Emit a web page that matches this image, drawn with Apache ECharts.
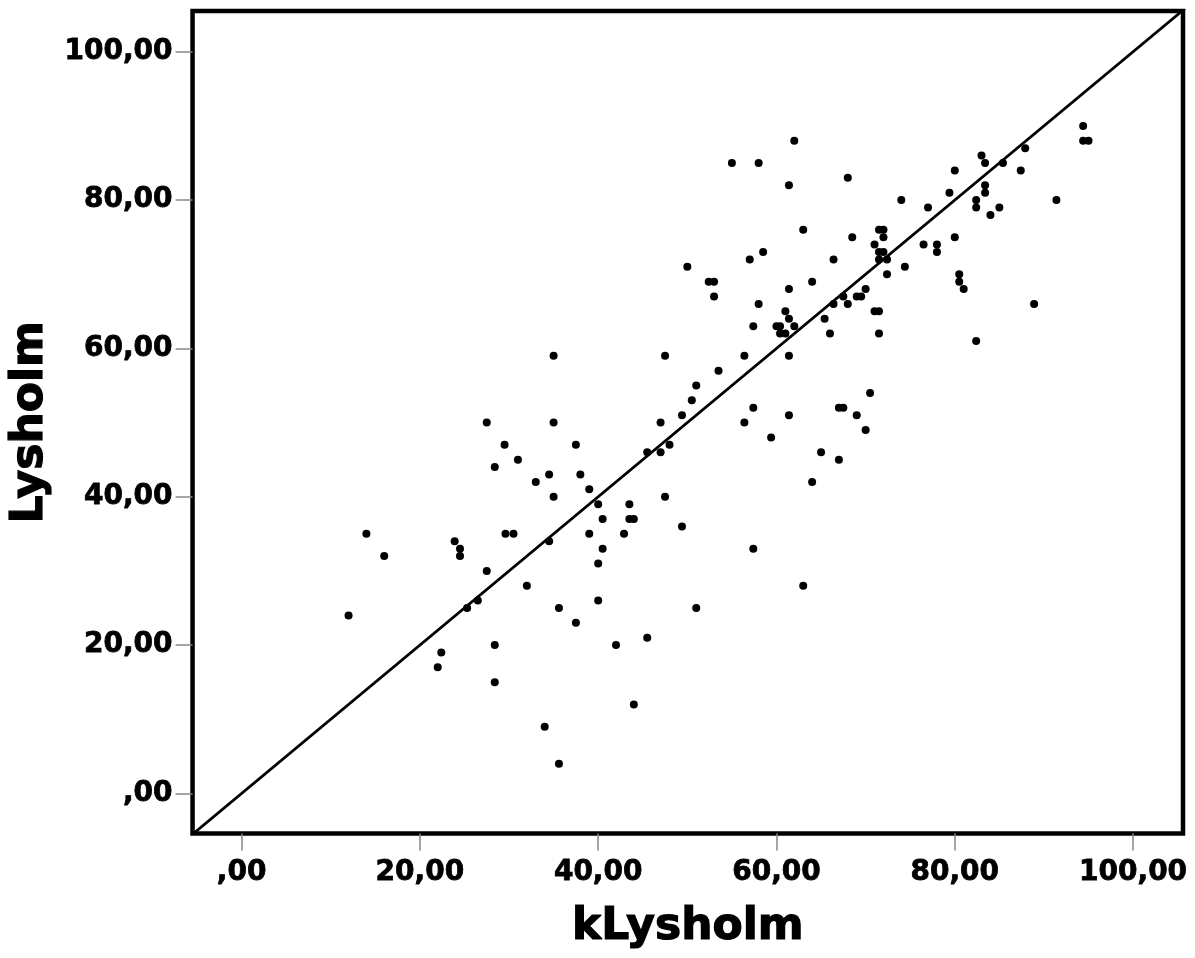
<!DOCTYPE html>
<html>
<head>
<meta charset="utf-8">
<script src="https://cdn.jsdelivr.net/npm/echarts@6/dist/echarts.min.js"></script>
<style>
html,body{margin:0;padding:0;background:#fff;}
#chart{width:1195px;height:958px;}
</style>
</head>
<body>
<div id="chart"></div>
<script>
// kLysholm (x) values
const kLysholm = [12,14,16,23.9,24.5,24.5,22,22.4,25.3,26.5,
27.5,27.5,28.4,29.5,29.6,30.5,31,28.4,28.4,32,
33,34.5,34.5,35,35,35,35.6,34,35.6,37.5,
37.5,38,39,39,40,40,40,40.5,40.5,42,
42.9,43.5,43.5,44,44,45.5,45.5,47,47,47.5,
47.5,48,49.4,49.4,50,50.5,51,51,52.4,53,
53,53.5,55,56.4,56.4,57,57.4,57.4,57.4,58,
58,58.5,59.4,60,60.4,60.4,61,61,61.4,61.4,
61.4,61.4,61.4,62,62,63,63,64,64,65,
65.4,66,66.4,66.4,67,67,67.5,67.5,68,68,
68.5,69,69,69.5,70,70,70.5,71,71,71.5,
71.5,71.5,71.5,71.5,72,72,72,72.4,72.4,74,
74.4,76.5,77,78,78,79.4,80,80,80.5,80.5,
81,82.4,82.4,82.4,83,83.4,83.4,83.4,84,85,
85.4,87.4,87.9,88.9,91.4,94.4,94.4,95];
// Lysholm (y) values
const lysholm = [24,35,32,34,33,32,17,19,25,26,
30,50,44,47,35,35,45,20,15,28,
42,43,34,50,40,59,25,9,4,47,
23,43,41,35,39,31,26,37,33,20,
35,39,37,37,12,46,21,50,46,59,
40,47,51,36,71,53,55,25,69,69,
67,57,85,59,50,72,63,52,33,85,
66,73,48,63,63,62,65,62,68,64,
59,51,82,88,63,76,28,69,42,46,
64,62,72,66,52,45,67,52,83,66,
75,67,51,67,68,49,54,74,65,76,
73,72,65,62,76,75,73,72,70,80,
71,74,79,74,73,81,75,84,70,69,
68,80,79,61,86,85,82,81,78,79,
85,84,87,66,80,90,88,88];
// tick values
const tickValues = [0,20,40,60,80,100];
// identity reference line y = x
const refLine = [[-10,-10],[110,110]];

const points = kLysholm.map((x,i)=>[x, lysholm[i]]);
const fmt = v => v === 0 ? ',00' : v.toFixed(2).replace('.', ',');
const FONT = 'DejaVu Sans';
const labelStyle = {fontFamily:FONT, fontWeight:'bold', fontSize:28, color:'#000', textBorderColor:'#000', textBorderWidth:0.8, formatter:fmt, customValues:tickValues};

const chart = echarts.init(document.getElementById('chart'), null, {renderer:'canvas'});
chart.setOption({
  backgroundColor:'#fff',
  animation:false,
  grid:{left:188.5, right:12, top:11, bottom:124.5, show:true, borderColor:'#000', borderWidth:4.5, backgroundColor:'transparent'},
  xAxis:{
    type:'value', min:-5.5, max:105.6,
    name:'kLysholm', nameLocation:'middle', nameGap:72,
    nameTextStyle:{fontFamily:FONT, fontWeight:'bold', fontSize:44, color:'#000', textBorderColor:'#000', textBorderWidth:1.2},
    axisLine:{show:false, onZero:false},
    splitLine:{show:false},
    axisTick:{show:true, inside:false, length:17, lineStyle:{color:'#888', width:1.5}, customValues:tickValues},
    axisLabel:Object.assign({margin:25}, labelStyle)
  },
  yAxis:{
    type:'value', min:-5.4, max:105.5,
    name:'Lysholm', nameLocation:'middle', nameGap:134, nameRotate:90,
    nameTextStyle:{fontFamily:FONT, fontWeight:'bold', fontSize:44, color:'#000', textBorderColor:'#000', textBorderWidth:1.2},
    axisLine:{show:false, onZero:false},
    splitLine:{show:false},
    axisTick:{show:true, inside:false, length:17, lineStyle:{color:'#888', width:1.5}, customValues:tickValues},
    axisLabel:Object.assign({margin:20}, labelStyle)
  },
  series:[
    {type:'line', data:refLine, symbol:'none', clip:true, lineStyle:{color:'#000', width:2.8}, z:2},
    {type:'scatter', data:points, symbol:'circle', symbolSize:8, itemStyle:{color:'#000', opacity:1}, z:3}
  ]
});
</script>
</body>
</html>
